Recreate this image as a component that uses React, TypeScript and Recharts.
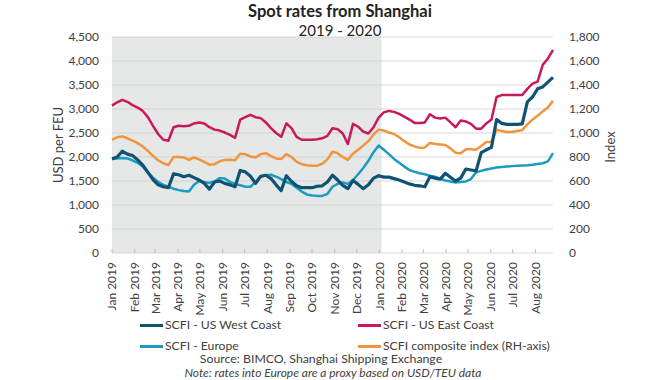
import React from 'react'
import { LineChart, Line, XAxis, YAxis, CartesianGrid, ReferenceArea } from 'recharts'

// weekly SCFI readings, first Friday of 2019 onward
const startDate = '2019-01-04'
const shadeEnd = '2020-01-07'

const monthLabels = [
  'Jan 2019', 'Feb 2019', 'Mar 2019', 'Apr 2019', 'May 2019', 'Jun 2019', 'Jul 2019',
  'Aug 2019', 'Sep 2019', 'Oct 2019', 'Nov 2019', 'Dec 2019', 'Jan 2020', 'Feb 2020',
  'Mar 2020', 'Apr 2020', 'May 2020', 'Jun 2020', 'Jul 2020', 'Aug 2020',
]

const usWestCoast = [
  1960, 2000, 2120, 2060, 2030, 1940, 1830, 1680, 1530, 1420, 1380, 1360, 1650, 1630, 1590,
  1620, 1570, 1520, 1450, 1330, 1480, 1500, 1450, 1420, 1380, 1720, 1690, 1600, 1450, 1600,
  1620, 1550, 1420, 1300, 1610, 1490, 1400, 1360, 1360, 1360, 1390, 1400, 1480, 1620, 1520,
  1410, 1340, 1510, 1430, 1340, 1420, 1560, 1610, 1580, 1580, 1550, 1520, 1480, 1440, 1410,
  1400, 1380, 1590, 1560, 1540, 1660, 1580, 1500, 1560, 1750, 1730, 1710, 2090, 2150, 2200,
  2780, 2700, 2680, 2680, 2680, 2690, 3150, 3250, 3420, 3460, 3560, 3660,
]

const usEastCoast = [
  3070, 3140, 3190, 3150, 3080, 3030, 2960, 2830, 2650, 2480, 2360, 2340, 2620, 2650, 2640,
  2650, 2700, 2720, 2700, 2620, 2570, 2550, 2510, 2460, 2400, 2780, 2830, 2880, 2830, 2810,
  2720, 2600, 2500, 2420, 2700, 2600, 2420, 2360, 2360, 2360, 2370, 2390, 2440, 2600, 2580,
  2490, 2270, 2690, 2630, 2530, 2490, 2620, 2820, 2930, 2960, 2940, 2900, 2840, 2780, 2710,
  2710, 2720, 2890, 2820, 2800, 2820, 2720, 2620, 2760, 2740, 2690, 2590, 2590, 2700, 2780,
  3250, 3290, 3290, 3290, 3290, 3290, 3420, 3530, 3570, 3920, 4050, 4230,
]

const europe = [
  1970, 1970, 1980, 1970, 1930, 1880, 1800, 1680, 1570, 1480, 1420, 1380, 1340, 1310, 1290,
  1280, 1420, 1500, 1480, 1460, 1490, 1560, 1550, 1480, 1440, 1410, 1380, 1380, 1480, 1590,
  1620, 1630, 1590, 1540, 1480, 1440, 1360, 1280, 1220, 1200, 1190, 1190, 1230, 1380, 1440,
  1470, 1440, 1520, 1640, 1770, 1920, 2100, 2240, 2150, 2060, 1960, 1880, 1800, 1730, 1690,
  1660, 1640, 1610, 1590, 1550, 1510, 1490, 1470, 1480, 1490, 1540, 1680, 1710, 1740, 1760,
  1780, 1790, 1800, 1810, 1820, 1825, 1830, 1840, 1855, 1870, 1910, 2080,
]

// RH axis
const compositeIndex = [
  944, 964, 972, 956, 936, 916, 888, 852, 808, 772, 748, 732, 800, 800, 796,
  776, 796, 780, 760, 736, 740, 764, 776, 778, 772, 828, 824, 804, 796, 824,
  832, 808, 788, 784, 824, 800, 760, 740, 732, 728, 728, 744, 780, 844, 832,
  800, 776, 828, 860, 896, 932, 988, 1028, 1020, 1004, 992, 964, 932, 904, 888,
  876, 880, 916, 908, 904, 900, 872, 836, 832, 864, 864, 860, 892, 924, 928,
  1028, 1016, 1008, 1008, 1016, 1024, 1072, 1112, 1144, 1180, 1212, 1268,
]

const usdTicks = [0, 500, 1000, 1500, 2000, 2500, 3000, 3500, 4000, 4500]
const indexTicks = [0, 200, 400, 600, 800, 1000, 1200, 1400, 1600, 1800]

const DAY = 86400000
const t0 = Date.parse(startDate)
const daysFrom = (ms: number) => Math.round((ms - t0) / DAY)

const data = usWestCoast.map((v, i) => ({
  day: i * 7,
  west: v,
  east: usEastCoast[i],
  europe: europe[i],
  composite: compositeIndex[i],
}))

const monthTicks = monthLabels.map((_, k) => daysFrom(Date.UTC(2019, k, 4)))
const lastDay = data[data.length - 1].day

const FONT = 'Lato, "Open Sans", sans-serif'
const TXT = '#404040'

const C_WEST = '#0f5372'
const C_EAST = '#c8195c'
const C_EUROPE = '#1b9bc4'
const C_COMP = '#f0953d'

function MonthTick(props: any) {
  const { x, y, payload } = props
  const k = monthTicks.indexOf(payload.value)
  return (
    <g>
      <line x1={x} x2={x} y1={y - 9} y2={y - 13} stroke="#bfbfbf" />
      <text
        x={x}
        y={y}
        transform={`rotate(-90 ${x} ${y})`}
        textAnchor="end"
        dy="0.36em"
        fontSize={12}
        fontFamily={FONT}
        fill={TXT}
      >
        {monthLabels[k]}
      </text>
    </g>
  )
}

const fmt = (v: number) => v.toLocaleString('en-US')

function LegendItem({ color, label, width }: { color: string; label: string; width: number }) {
  return (
    <div style={{ display: 'flex', alignItems: 'center', width }}>
      <div style={{ width: 23, height: 3, background: color, marginRight: 2 }} />
      <span>{label}</span>
    </div>
  )
}

export default function App() {
  return (
    <div
      style={{
        position: 'absolute',
        left: 0,
        top: 0,
        width: 670,
        height: 380,
        background: '#fff',
        fontFamily: FONT,
        color: TXT,
        overflow: 'hidden',
      }}
    >
      <div style={{ position: 'absolute', left: 0, width: 680, top: 1, textAlign: 'center', fontSize: 16.5, fontWeight: 700, color: '#222' }}>
        Spot rates from Shanghai
      </div>
      <div style={{ position: 'absolute', left: 0, width: 680, top: 21, textAlign: 'center', fontSize: 15, color: '#222' }}>
        2019 - 2020
      </div>

      <LineChart
        width={670}
        height={380}
        data={data}
        margin={{ top: 37, right: 57, bottom: 57, left: 52 }}
      >
        <ReferenceArea
          x1={0}
          x2={daysFrom(Date.parse(shadeEnd))}
          yAxisId="usd"
          y1={0}
          y2={4500}
          fill="#c8cccc"
          fillOpacity={0.45}
          stroke="none"
        />
        <CartesianGrid vertical={false} yAxisId="usd" stroke="#d9d9d9" />
        <XAxis
          dataKey="day"
          type="number"
          domain={[0, lastDay]}
          ticks={monthTicks}
          interval={0}
          axisLine={false}
          tickLine={false}
          tickSize={0}
          tickMargin={9}
          height={70}
          tick={<MonthTick />}
        />
        <YAxis
          yAxisId="usd"
          domain={[0, 4500]}
          ticks={usdTicks}
          interval={0}
          width={60}
          axisLine={false}
          tickLine={false}
          tickSize={0}
          tickMargin={13}
          tickFormatter={fmt}
          tick={{ fontSize: 12, fontFamily: FONT, fill: TXT }}
        />
        <YAxis
          yAxisId="idx"
          orientation="right"
          domain={[0, 1800]}
          ticks={indexTicks}
          interval={0}
          width={60}
          axisLine={false}
          tickLine={false}
          tickSize={0}
          tickMargin={16}
          tickFormatter={fmt}
          tick={{ fontSize: 12, fontFamily: FONT, fill: TXT, textAnchor: 'start' }}
        />
        <Line yAxisId="usd" dataKey="east" stroke={C_EAST} strokeWidth={2.5} dot={false} isAnimationActive={false} strokeLinejoin="round" />
        <Line yAxisId="idx" dataKey="composite" stroke={C_COMP} strokeWidth={2.5} dot={false} isAnimationActive={false} strokeLinejoin="round" />
        <Line yAxisId="usd" dataKey="europe" stroke={C_EUROPE} strokeWidth={2.5} dot={false} isAnimationActive={false} strokeLinejoin="round" />
        <Line yAxisId="usd" dataKey="west" stroke={C_WEST} strokeWidth={3.2} dot={false} isAnimationActive={false} strokeLinejoin="round" />
      </LineChart>

      <div
        style={{
          position: 'absolute',
          left: -2,
          top: 137,
          width: 120,
          textAlign: 'center',
          fontSize: 13,
          transform: 'rotate(-90deg)',
          transformOrigin: '60px 8px',
        }}
      >
        USD per FEU
      </div>
      <div
        style={{
          position: 'absolute',
          left: 550,
          top: 139,
          width: 120,
          textAlign: 'center',
          fontSize: 13,
          transform: 'rotate(-90deg)',
          transformOrigin: '60px 8px',
        }}
      >
        Index
      </div>

      <div style={{ position: 'absolute', left: 140, top: 317, fontSize: 12.2, lineHeight: '16px' }}>
        <div style={{ display: 'flex' }}>
          <LegendItem color={C_WEST} label="SCFI - US West Coast" width={218} />
          <LegendItem color={C_EAST} label="SCFI - US East Coast" width={220} />
        </div>
        <div style={{ display: 'flex', marginTop: 5 }}>
          <LegendItem color={C_EUROPE} label="SCFI - Europe" width={218} />
          <LegendItem color={C_COMP} label="SCFI composite index (RH-axis)" width={240} />
        </div>
      </div>
      <div style={{ position: 'absolute', left: 0, width: 642, top: 352, textAlign: 'center', fontSize: 12.3, lineHeight: '14px' }}>
        Source: BIMCO, Shanghai Shipping Exchange
      </div>
      <div style={{ position: 'absolute', left: 0, width: 666, top: 366, textAlign: 'center', fontSize: 12, lineHeight: '13px', fontStyle: 'italic' }}>
        Note: rates into Europe are a proxy based on USD/TEU data
      </div>
    </div>
  )
}
